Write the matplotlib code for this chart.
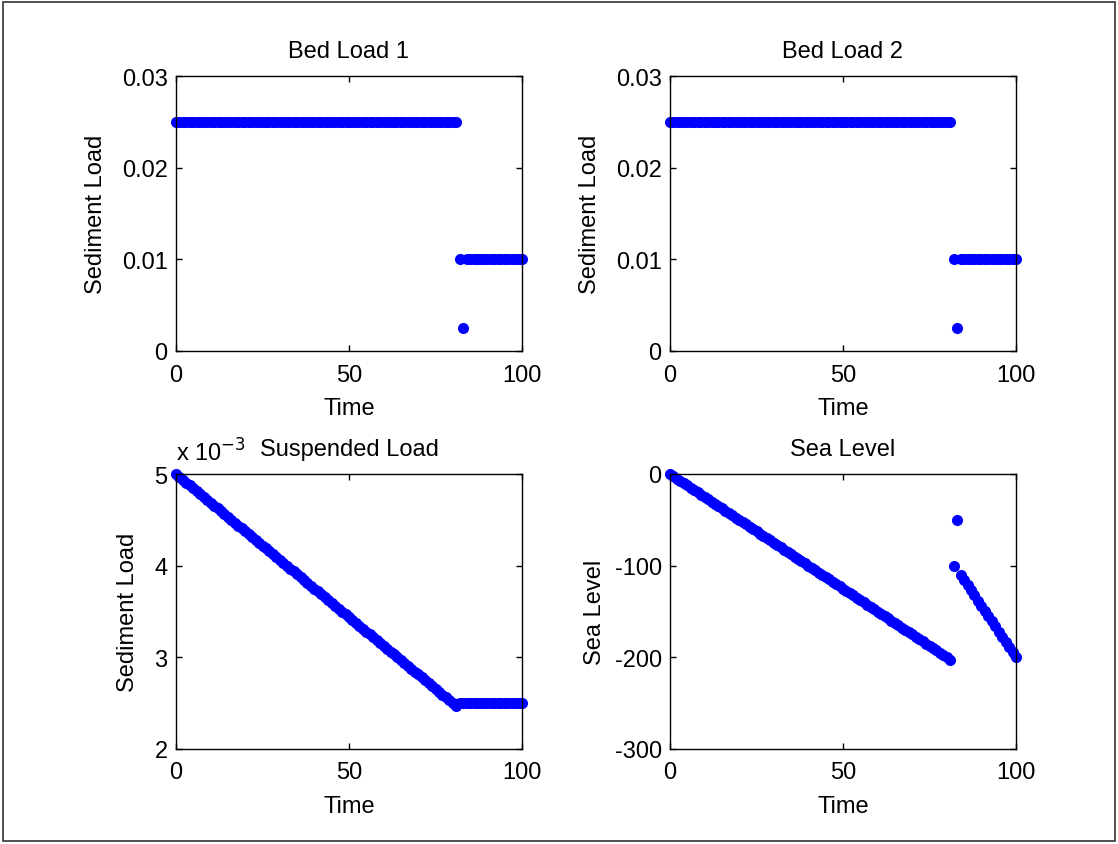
import matplotlib
matplotlib.use("Agg")
import matplotlib.pyplot as plt
from matplotlib.ticker import FuncFormatter
from matplotlib.patches import Rectangle

plt.rcParams['font.family'] = ['Liberation Sans', 'DejaVu Sans']
plt.rcParams['axes.unicode_minus'] = False

# Time steps
time = list(range(0, 101))

# Bed load 1 and 2 (same series)
bed_load_1 = [0.025] * 82 + [0.01, 0.0025] + [0.01] * 17
bed_load_2 = [0.025] * 82 + [0.01, 0.0025] + [0.01] * 17

# Suspended load, in units of 1e-3
suspended_e3 = [
    5.000, 4.969, 4.938, 4.906, 4.875, 4.844, 4.813, 4.781,
    4.750, 4.719, 4.688, 4.656, 4.625, 4.594, 4.563, 4.531,
    4.500, 4.469, 4.438, 4.406, 4.375, 4.344, 4.313, 4.281,
    4.250, 4.219, 4.188, 4.156, 4.125, 4.094, 4.063, 4.031,
    4.000, 3.969, 3.938, 3.906, 3.875, 3.844, 3.813, 3.781,
    3.750, 3.719, 3.688, 3.656, 3.625, 3.594, 3.563, 3.531,
    3.500, 3.469, 3.438, 3.406, 3.375, 3.344, 3.313, 3.281,
    3.250, 3.219, 3.188, 3.156, 3.125, 3.094, 3.063, 3.031,
    3.000, 2.969, 2.938, 2.906, 2.875, 2.844, 2.813, 2.781,
    2.750, 2.719, 2.688, 2.656, 2.625, 2.594, 2.563, 2.531,
    2.500, 2.469,
    2.5, 2.5, 2.5, 2.5, 2.5, 2.5, 2.5, 2.5, 2.5, 2.5,
    2.5, 2.5, 2.5, 2.5, 2.5, 2.5, 2.5, 2.5, 2.5,
]
suspended = [v * 1e-3 for v in suspended_e3]

# Sea level
sea_level = [
    0.0, -2.5, -5.0, -7.5, -10.0, -12.5, -15.0, -17.5, -20.0, -22.5,
    -25.0, -27.5, -30.0, -32.5, -35.0, -37.5, -40.0, -42.5, -45.0, -47.5,
    -50.0, -52.5, -55.0, -57.5, -60.0, -62.5, -65.0, -67.5, -70.0, -72.5,
    -75.0, -77.5, -80.0, -82.5, -85.0, -87.5, -90.0, -92.5, -95.0, -97.5,
    -100.0, -102.5, -105.0, -107.5, -110.0, -112.5, -115.0, -117.5, -120.0, -122.5,
    -125.0, -127.5, -130.0, -132.5, -135.0, -137.5, -140.0, -142.5, -145.0, -147.5,
    -150.0, -152.5, -155.0, -157.5, -160.0, -162.5, -165.0, -167.5, -170.0, -172.5,
    -175.0, -177.5, -180.0, -182.5, -185.0, -187.5, -190.0, -192.5, -195.0, -197.5,
    -200.0, -202.5,
    -100.0, -50.0,
    -110.0, -115.6, -121.3, -126.9, -132.5, -138.1, -143.8, -149.4, -155.0,
    -160.6, -166.3, -171.9, -177.5, -183.1, -188.8, -194.4, -200.0,
]

x_ticks = [0, 50, 100]
bed_ticks = [0, 0.01, 0.02, 0.03]
susp_ticks = [2e-3, 3e-3, 4e-3, 5e-3]
sea_ticks = [-300, -200, -100, 0]

FS = 17
W, H = 1118, 845
fig = plt.figure(figsize=(W / 100, H / 100), dpi=100)

def frac(left, top, right, bottom):
    return [left / W, 1 - bottom / H, (right - left) / W, (bottom - top) / H]

ax_tl = fig.add_axes(frac(176, 77, 522, 352))
ax_tr = fig.add_axes(frac(670, 77, 1016, 352))
ax_bl = fig.add_axes(frac(176, 475, 522, 750))
ax_br = fig.add_axes(frac(670, 475, 1016, 750))

def style(ax):
    ax.tick_params(direction='in', top=True, right=True, length=4,
                   width=1, labelsize=FS)
    ax.tick_params(axis='x', pad=9)
    ax.tick_params(axis='y', pad=6)
    for s in ax.spines.values():
        s.set_linewidth(1.0)
    ax.set_xlim(0, 100)
    ax.set_xticks(x_ticks)
    ax.set_xlabel('Time', fontsize=FS, labelpad=8)

mk = dict(marker='o', linestyle='none', color='#0000ff', markersize=8,
          markeredgewidth=0, clip_on=False)

for ax, data, title in [(ax_tl, bed_load_1, 'Bed Load 1'),
                        (ax_tr, bed_load_2, 'Bed Load 2')]:
    ax.plot(time, data, **mk)
    style(ax)
    ax.set_ylim(0, 0.03)
    ax.set_yticks(bed_ticks)
    ax.set_yticklabels(['0', '0.01', '0.02', '0.03'])
    ax.set_ylabel('Sediment Load', fontsize=FS, labelpad=11)
    ax.set_title(title, fontsize=FS, pad=14)

ax_bl.plot(time, suspended, **mk)
style(ax_bl)
ax_bl.set_ylim(2e-3, 5e-3)
ax_bl.set_yticks(susp_ticks)
ax_bl.yaxis.set_major_formatter(FuncFormatter(lambda v, p: f'{v * 1e3:g}'))
ax_bl.set_ylabel('Sediment Load', fontsize=FS, labelpad=11)
ax_bl.set_title('Suspended Load', fontsize=FS, pad=14)
ax_bl.text(0.0, 1.03, 'x 10$^{-3}$', transform=ax_bl.transAxes,
           fontsize=FS, ha='left', va='bottom')

ax_br.plot(time, sea_level, **mk)
style(ax_br)
ax_br.set_ylim(-300, 0)
ax_br.set_yticks(sea_ticks)
ax_br.set_ylabel('Sea Level', fontsize=FS, labelpad=6)
ax_br.set_title('Sea Level', fontsize=FS, pad=14)

# Thin frame around the whole figure
fig.add_artist(Rectangle((3 / W, 3 / H), 1 - 6 / W, 1 - 6 / H,
                         transform=fig.transFigure, fill=False,
                         edgecolor='#333333', linewidth=1.2))

fig.savefig('out.png', dpi=100)
